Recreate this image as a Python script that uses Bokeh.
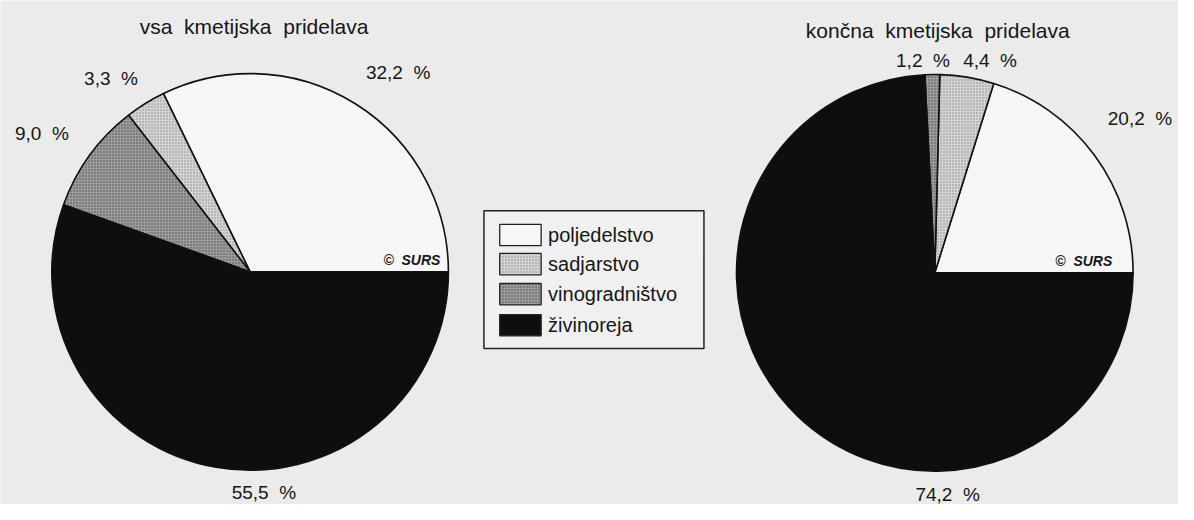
import math
from bokeh.plotting import figure
from bokeh.models import Range1d, ColumnDataSource
from bokeh.core.properties import value
from bokeh.embed import file_html
from bokeh.resources import INLINE

# ---- data ----
categories = ["poljedelstvo", "sadjarstvo", "vinogradništvo", "živinoreja"]
vsa_values = [32.2, 3.3, 9.0, 55.5]          # vsa kmetijska pridelava
koncna_values = [20.2, 4.4, 1.2, 74.2]       # končna kmetijska pridelava
titles = ["vsa\u00a0\u00a0kmetijska\u00a0\u00a0pridelava",
          "končna\u00a0\u00a0kmetijska\u00a0\u00a0pridelava"]

# ---- styles ----
fills = ["#f6f6f6", "#d4d4d4", "#9c9c9c", "#0e0e0e"]
hatches = [" ", "dot", "dot", " "]
hatch_cols = ["#f6f6f6", "#8a8a8a", "#4a4a4a", "#0e0e0e"]
BG = "#ebebeb"
FONT = "Liberation Sans"
TXT = "#161616"

W, H = 1178, 504
p = figure(width=W, height=H, output_backend="svg", toolbar_location=None,
           x_range=Range1d(0, 1194), y_range=Range1d(0, 520),
           min_border=0, outline_line_color=None)
p.axis.visible = False
p.grid.visible = False
p.background_fill_color = BG
p.border_fill_color = BG


def Y(y):  # reference image row -> data y
    return 520 - y


def fmt(v):
    return ("%.1f" % v).replace(".", ",") + "\u00a0\u00a0%"


def pie(cx, cy, r, vals):
    starts, ends = [], []
    a = 0.0
    for v in vals:
        starts.append(a)
        a += v / sum(vals) * 2 * math.pi
        ends.append(a)
    src = ColumnDataSource(dict(x=[cx] * len(vals), y=[Y(cy)] * len(vals),
                                s=starts, e=ends, f=fills, h=hatches, hc=hatch_cols))
    p.wedge(x="x", y="y", radius=r, start_angle="s", end_angle="e", source=src,
            fill_color="f", hatch_pattern="h", hatch_color="hc", hatch_scale=3,
            hatch_weight=1, line_color="#111111", line_width=1.6)


pie(253, 280, 201, vsa_values)
pie(947, 281, 201, koncna_values)

# titles
p.text(x=[257, 950], y=[Y(27), Y(31)], text=titles, text_font=value(FONT),
       text_font_size="21px", text_align="center", text_baseline="middle",
       text_color=TXT)

# percentage labels (layout positions in reference image coords, same order as values)
vsa_pos = [(403, 74), (112, 80), (42, 137), (267, 508)]
kon_pos = [(1155, 122), (1003, 62), (935, 62), (960, 510)]
for vals, pos in ((vsa_values, vsa_pos), (koncna_values, kon_pos)):
    p.text(x=[q[0] for q in pos], y=[Y(q[1]) for q in pos],
           text=[fmt(v) for v in vals], text_font=value(FONT),
           text_font_size="19px", text_align="center", text_baseline="middle",
           text_color=TXT)

# copyright marks
p.text(x=[417, 1098], y=[Y(268), Y(269)], text=["©\u00a0\u00a0SURS", "©\u00a0\u00a0SURS"],
       text_font=value(FONT), text_font_size="14px", text_font_style="bold italic",
       text_align="center", text_baseline="middle", text_color=TXT)

# legend
p.rect(x=[601.5], y=[Y(288)], width=223, height=142, fill_color="#f0f0f0",
       line_color="#222222", line_width=1.5)
rows = [242, 272, 303, 335]
p.rect(x=[527] * 4, y=[Y(r) for r in rows], width=42, height=22,
       fill_color=fills, hatch_pattern=hatches, hatch_color=hatch_cols,
       hatch_scale=3, hatch_weight=1, line_color="#222222", line_width=1.3)
p.text(x=[555] * 4, y=[Y(r) for r in rows], text=categories,
       text_font=value(FONT), text_font_size="20px", text_align="left",
       text_baseline="middle", text_color=TXT)

open("out.html", "w").write(file_html(p, INLINE))
